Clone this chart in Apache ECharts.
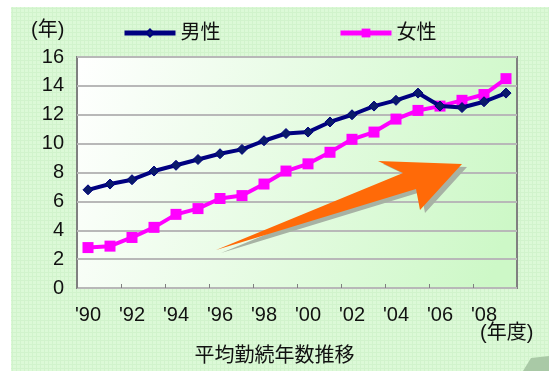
<!DOCTYPE html>
<html>
<head>
<meta charset="utf-8">
<script src="https://cdn.jsdelivr.net/npm/echarts@6/dist/echarts.min.js"></script>
<style>
  html, body { margin: 0; padding: 0; background: #ffffff; }
  #chart { width: 549px; height: 371px; }
</style>
</head>
<body>
<div id="chart"></div>
<script>
// Fiscal years shown on the category axis
const years = ["'90","'91","'92","'93","'94","'95","'96","'97","'98","'99",
               "'00","'01","'02","'03","'04","'05","'06","'07","'08","'09"];
// Average length of service (years), men
const male = [6.8, 7.2, 7.5, 8.1, 8.5, 8.9, 9.3, 9.6, 10.2, 10.7,
              10.8, 11.5, 12.0, 12.6, 13.0, 13.5, 12.6, 12.5, 12.9, 13.5];
// Average length of service (years), women
const female = [2.8, 2.9, 3.5, 4.2, 5.1, 5.5, 6.2, 6.4, 7.2, 8.1,
                8.6, 9.4, 10.3, 10.8, 11.7, 12.3, 12.6, 13.0, 13.4, 14.5];
// Value axis range
const yMin = 0, yMax = 16, yStep = 2;

const FONT = '"Liberation Sans", "Noto Sans CJK JP", sans-serif';

// Fine checked texture for the panel background
function makeTexture() {
  const c = document.createElement('canvas');
  c.width = 4; c.height = 4;
  const g = c.getContext('2d');
  g.fillStyle = '#dcf9d7';
  g.fillRect(0, 0, 4, 4);
  g.fillStyle = '#d1f3cc';
  g.fillRect(0, 0, 4, 1);
  g.fillRect(0, 0, 1, 4);
  return c;
}

const chart = echarts.init(document.getElementById('chart'), null, { renderer: 'canvas' });

// Arrow outline (decoration across the plot)
const arrowPts = [[216, 250], [403, 173], [378, 161], [462, 164], [420, 210], [416, 189]];
const shadowPts = arrowPts.map(p => [p[0] + 5, p[1] + 3]);

const legendText = { fontSize: 20, color: '#111', fontFamily: FONT };

chart.setOption({
  backgroundColor: '#ffffff',
  animation: false,
  textStyle: { fontFamily: FONT },
  graphic: [
    {
      type: 'rect', z: -10, silent: true,
      shape: { x: 11, y: 7, width: 538, height: 364 },
      style: { fill: { image: makeTexture(), repeat: 'repeat' } }
    },
    {
      type: 'polygon', z: -9, silent: true,
      shape: { points: [[523, 371], [531, 358], [549, 356], [549, 371]] },
      style: { fill: '#a9c9a6' }
    },
    {
      type: 'text', left: 31, top: 20, silent: true,
      style: { text: '(年)', font: '20px ' + FONT, fill: '#111' }
    },
    {
      type: 'text', left: 480, top: 323, silent: true,
      style: { text: '(年度)', font: '20px ' + FONT, fill: '#111' }
    },
    {
      type: 'text', left: 'center', top: 346, silent: true,
      style: { text: '平均勤続年数推移', font: '20px ' + FONT, fill: '#111' }
    },
    {
      type: 'polygon', z: 50, silent: true,
      shape: { points: shadowPts },
      style: { fill: '#a7b2a4' }
    },
    {
      type: 'polygon', z: 51, silent: true,
      shape: { points: arrowPts },
      style: { fill: '#ff6a08' }
    }
  ],
  legend: [
    {
      data: ['男性'], left: 122, top: 23, padding: 0,
      itemWidth: 51, itemHeight: 9, itemGap: 0,
      lineStyle: { width: 5 },
      textStyle: legendText
    },
    {
      data: ['女性'], left: 338, top: 23, padding: 0,
      itemWidth: 51, itemHeight: 11, itemGap: 0,
      lineStyle: { width: 5 },
      textStyle: legendText
    }
  ],
  grid: {
    left: 77, right: 32, top: 57, bottom: 83,
    show: true,
    borderColor: '#808080', borderWidth: 2,
    backgroundColor: {
      type: 'linear', x: 0, y: 0, x2: 1, y2: 0.6,
      colorStops: [
        { offset: 0, color: '#ffffff' },
        { offset: 1, color: '#cdf8c7' }
      ]
    }
  },
  xAxis: {
    type: 'category',
    data: years,
    boundaryGap: true,
    axisLine: { show: false },
    axisTick: { show: true, inside: true, length: 4, lineStyle: { color: '#808080', width: 1 } },
    axisLabel: { interval: 1, fontSize: 20, color: '#111', margin: 17, fontFamily: FONT },
    splitLine: { show: false }
  },
  yAxis: {
    type: 'value',
    min: yMin, max: yMax, interval: yStep,
    axisLine: { show: false },
    axisTick: { show: false },
    axisLabel: { fontSize: 20, color: '#111', margin: 13, fontFamily: FONT },
    splitLine: { show: true, lineStyle: { color: '#b8b8b8', width: 2 } }
  },
  series: [
    {
      name: '男性', type: 'line', data: male, z: 3,
      symbol: 'diamond', symbolSize: 10, showAllSymbol: true,
      lineStyle: { color: '#000080', width: 4 },
      itemStyle: { color: '#0a1a6a', borderColor: '#000080', borderWidth: 1 }
    },
    {
      name: '女性', type: 'line', data: female, z: 2,
      symbol: 'rect', symbolSize: 11, showAllSymbol: true,
      lineStyle: { color: '#ff00ff', width: 4 },
      itemStyle: { color: '#ff00ff' }
    }
  ]
});
</script>
</body>
</html>
